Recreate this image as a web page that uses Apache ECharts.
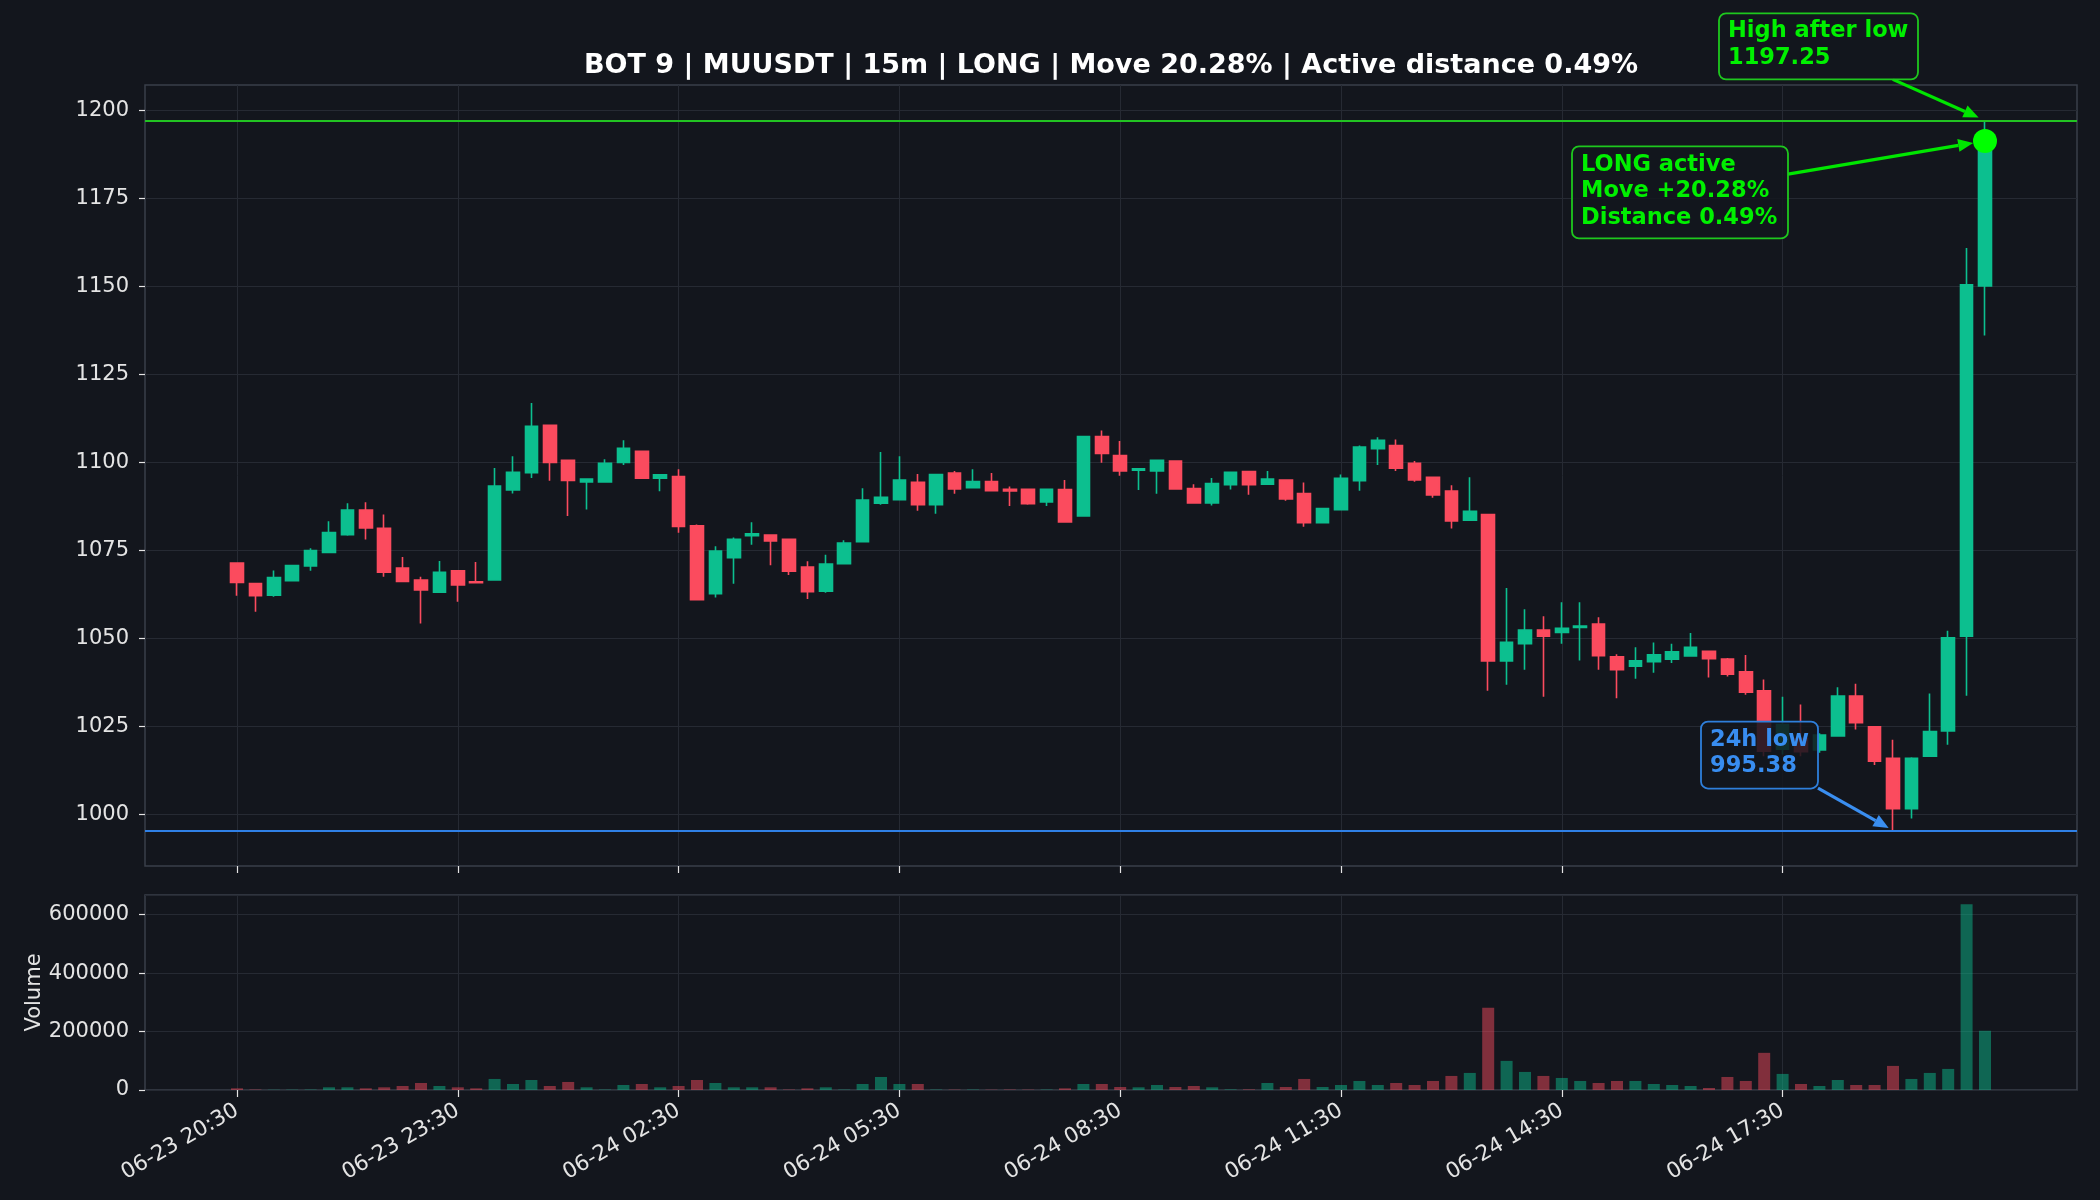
<!DOCTYPE html>
<html>
<head>
<meta charset="utf-8">
<title>BOT 9 | MUUSDT | 15m</title>
<script src="https://cdn.jsdelivr.net/npm/echarts@6/dist/echarts.min.js"></script>
<style>
  html, body { margin: 0; padding: 0; background: #13161d; }
  #chart { width: 2100px; height: 1200px; }
</style>
</head>
<body>
<div id="chart"></div>
<script>
// 15m candles, first one at 06-23 20:30
const opens = [
  1071.4, 1065.6, 1062.3, 1066.4, 1070.6, 1074.4, 1079.5, 1086.5, 1081.3, 1070.0,
  1066.6, 1063.1, 1069.2, 1066.1, 1066.6, 1092.2, 1097.1, 1110.6, 1100.6, 1094.5,
  1094.5, 1100.0, 1103.2, 1095.5, 1096.0, 1082.0, 1062.7, 1072.9, 1079.2, 1079.4,
  1078.2, 1070.3, 1063.4, 1071.2, 1077.5, 1088.4, 1089.4, 1094.4, 1088.0, 1097.0,
  1092.8, 1094.6, 1092.4, 1092.4, 1088.8, 1092.3, 1084.8, 1107.4, 1102.0, 1097.8,
  1097.6, 1100.4, 1092.6, 1088.5, 1093.7, 1097.4, 1093.8, 1095.0, 1091.2, 1082.9,
  1086.6, 1094.8, 1103.9, 1104.8, 1099.8, 1095.8, 1091.9, 1083.6, 1085.2, 1043.6,
  1048.5, 1052.4, 1051.7, 1053.1, 1054.1, 1044.8, 1042.1, 1043.4, 1044.1, 1045.0,
  1046.3, 1044.1, 1040.5, 1035.1, 1018.5, 1021.5, 1018.3, 1022.3, 1033.6, 1024.9,
  1015.9, 1001.6, 1016.5, 1023.7, 1050.6, 1150.2
];
const closes = [
  1065.9, 1062.1, 1067.3, 1070.7, 1075.0, 1080.1, 1086.5, 1081.4, 1068.8, 1066.2,
  1063.8, 1068.8, 1065.2, 1065.8, 1093.3, 1097.2, 1110.3, 1100.0, 1094.9, 1095.3,
  1099.8, 1104.0, 1095.5, 1096.5, 1081.8, 1061.0, 1074.8, 1078.2, 1079.7, 1077.7,
  1069.1, 1063.3, 1071.1, 1077.1, 1089.3, 1090.1, 1095.0, 1088.0, 1096.6, 1092.5,
  1094.6, 1092.0, 1091.9, 1088.3, 1092.4, 1083.1, 1107.4, 1102.6, 1097.6, 1098.2,
  1100.6, 1092.5, 1088.5, 1094.0, 1097.2, 1093.7, 1095.3, 1089.6, 1082.9, 1086.9,
  1095.5, 1104.4, 1106.3, 1098.4, 1095.0, 1090.8, 1083.4, 1086.1, 1043.6, 1048.9,
  1052.4, 1050.6, 1052.9, 1053.5, 1045.1, 1041.1, 1043.6, 1045.3, 1046.2, 1047.5,
  1044.2, 1039.8, 1034.7, 1017.9, 1025.5, 1017.8, 1022.5, 1033.6, 1026.0, 1015.1,
  1001.6, 1015.9, 1023.5, 1050.2, 1150.5, 1191.4
];
const lows = [
  1062.1, 1057.6, 1061.8, 1066.4, 1069.2, 1074.4, 1079.2, 1078.1, 1067.5, 1066.1,
  1054.2, 1063.1, 1060.4, 1065.8, 1066.4, 1091.2, 1095.6, 1094.8, 1084.8, 1086.6,
  1094.3, 1099.3, 1095.4, 1091.8, 1080.0, 1060.9, 1061.6, 1065.5, 1076.6, 1070.8,
  1068.0, 1061.2, 1063.0, 1071.2, 1077.5, 1088.0, 1089.4, 1086.3, 1085.4, 1091.1,
  1092.6, 1092.0, 1087.6, 1088.0, 1087.6, 1083.1, 1084.8, 1099.9, 1096.2, 1092.2,
  1091.1, 1092.5, 1088.5, 1087.8, 1092.3, 1090.8, 1093.8, 1089.1, 1081.7, 1082.9,
  1086.6, 1092.0, 1099.3, 1097.6, 1094.5, 1090.0, 1081.2, 1083.4, 1035.1, 1036.8,
  1041.1, 1033.4, 1048.5, 1043.7, 1041.1, 1033.0, 1038.5, 1040.2, 1043.0, 1045.0,
  1038.9, 1039.2, 1034.0, 1016.5, 1017.0, 1016.5, 1017.5, 1022.3, 1024.1, 1014.0,
  995.38, 998.8, 1016.5, 1019.8, 1033.7, 1136.1
];
const highs = [
  1071.6, 1065.6, 1069.3, 1070.7, 1075.6, 1083.3, 1088.4, 1088.7, 1085.2, 1073.1,
  1067.5, 1072.0, 1069.4, 1071.7, 1098.4, 1101.8, 1116.9, 1110.6, 1100.6, 1095.5,
  1100.9, 1106.3, 1103.2, 1096.6, 1098.1, 1082.4, 1076.2, 1078.7, 1083.0, 1079.5,
  1078.2, 1071.9, 1073.8, 1077.9, 1092.7, 1103.0, 1101.8, 1096.7, 1096.6, 1097.6,
  1098.1, 1097.0, 1093.2, 1092.4, 1092.6, 1095.0, 1107.4, 1109.1, 1106.1, 1098.2,
  1100.6, 1100.6, 1093.8, 1095.6, 1097.2, 1097.4, 1097.6, 1095.0, 1094.3, 1086.9,
  1096.6, 1104.8, 1107.2, 1106.5, 1100.4, 1096.0, 1093.5, 1095.8, 1085.2, 1064.3,
  1058.3, 1056.3, 1060.3, 1060.3, 1056.0, 1045.5, 1047.5, 1048.8, 1048.5, 1051.5,
  1046.3, 1044.4, 1045.3, 1038.3, 1033.4, 1031.2, 1023.0, 1036.1, 1037.1, 1024.9,
  1021.2, 1016.2, 1034.3, 1052.2, 1161.0, 1197.25
];
const volumes = [
  5700, 1500, 1000, 1200, 1500, 9200, 9200, 5700, 9200, 13700,
  24000, 13700, 9200, 5700, 37800, 20600, 34300, 13700, 27500, 9200,
  1500, 17200, 20600, 9200, 13700, 34300, 24000, 9200, 9200, 9200,
  1500, 5700, 9200, 1500, 20600, 44600, 20600, 20600, 1500, 1200,
  1500, 1000, 1500, 1200, 1500, 5700, 20600, 20600, 10300, 9200,
  17200, 10300, 13700, 9200, 2000, 2000, 24000, 10300, 37800, 10300,
  17200, 30900, 17200, 24000, 17200, 30900, 48100, 58400, 281600, 99600,
  61800, 48100, 41200, 30900, 24000, 30900, 30900, 20600, 17200, 13700,
  6900, 44600, 30900, 127100, 55000, 20600, 13700, 34300, 17200, 17200,
  82400, 37800, 58400, 72100, 635400, 202600
];
const priceTicks = [1000, 1025, 1050, 1075, 1100, 1125, 1150, 1175, 1200];
const volumeTicks = [0, 200000, 400000, 600000];

const lowPrice = 995.38;
const lowIndex = 90;
const highPrice = 1197.25;
const highIndex = 95;
const activePrice = 1191.4;

const upColor = "#0cbf8f";
const downColor = "#fb4b5e";
const upVolColor = "rgba(12,191,143,0.48)";
const downVolColor = "rgba(251,75,94,0.48)";
const bgColor = "#13161d";
const gridLineColor = "#262a33";
const frameColor = "#3a3f4a";
const textColor = "#e4e4e4";
const greenText = "#00f000";
const greenEdge = "#1ec81e";
const blueText = "#388df0";
const blueEdge = "#2e7fdb";

const padCount = 5;
const labelStep = 12;

// category labels, 15 minutes apart
const times = [];
const t0 = Date.UTC(2024, 5, 23, 20, 30);
const two = (n) => String(n).padStart(2, "0");
for (let i = 0; i < opens.length; i++) {
  const d = new Date(t0 + i * 15 * 60000);
  times.push(`${two(d.getUTCMonth() + 1)}-${two(d.getUTCDate())} ${two(d.getUTCHours())}:${two(d.getUTCMinutes())}`);
}

const pads = Array.from({ length: padCount }, (_, k) => "pad" + k);
const padsEnd = Array.from({ length: padCount }, (_, k) => "end" + k);
const categories = [...pads, ...times, ...padsEnd];

const candleData = [
  ...pads.map(() => "-"),
  ...opens.map((o, i) => [o, closes[i], lows[i], highs[i]]),
  ...padsEnd.map(() => "-"),
];
const volumeData = [
  ...pads.map(() => "-"),
  ...volumes.map((v, i) => ({
    value: v,
    itemStyle: { color: closes[i] >= opens[i] ? upVolColor : downVolColor },
  })),
  ...padsEnd.map(() => "-"),
];

const movePct = ((highPrice / lowPrice - 1) * 100).toFixed(2);
const distPct = (((highPrice - activePrice) / highPrice) * 100).toFixed(2);

const showTick = (idx) =>
  idx >= padCount && idx - padCount < times.length && (idx - padCount) % labelStep === 0;

const gridLeft = 145;
const gridWidth = 1932;

const chart = echarts.init(document.getElementById("chart"), null, { renderer: "canvas" });

const xAxisBase = {
  type: "category",
  data: categories,
  boundaryGap: false,
  axisLine: { show: false },
  axisTick: { show: true, interval: showTick, length: 7, lineStyle: { color: textColor, width: 1.2 } },
  splitLine: { show: true, interval: showTick, lineStyle: { color: gridLineColor, width: 1 } },
};

const option = {
  backgroundColor: bgColor,
  animation: false,
  textStyle: { fontFamily: "DejaVu Sans" },
  grid: [
    { left: gridLeft, width: gridWidth, top: 85, height: 781, show: true, borderColor: frameColor, borderWidth: 1.5, backgroundColor: "transparent" },
    { left: gridLeft, width: gridWidth, top: 895, height: 195, show: true, borderColor: frameColor, borderWidth: 1.5, backgroundColor: "transparent" },
  ],
  xAxis: [
    { ...xAxisBase, gridIndex: 0, axisLabel: { show: false } },
    {
      ...xAxisBase,
      gridIndex: 1,
      axisLabel: {
        show: true,
        interval: showTick,
        rotate: 30,
        margin: 19,
        color: textColor,
        fontSize: 21.5,
        fontFamily: "DejaVu Sans",
      },
    },
  ],
  yAxis: [
    {
      type: "value",
      gridIndex: 0,
      min: 985.3,
      max: 1207.3,
      axisLine: { show: false },
      axisTick: { show: true, length: 6, customValues: priceTicks, lineStyle: { color: textColor, width: 1.2 } },
      axisLabel: { customValues: priceTicks, color: textColor, fontSize: 21, margin: 16, fontFamily: "DejaVu Sans", formatter: (v) => String(v) },
      splitLine: { show: true, lineStyle: { color: gridLineColor, width: 1 } },
    },
    {
      type: "value",
      gridIndex: 1,
      min: 0,
      max: 667000,
      interval: 200000,
      name: "Volume",
      nameLocation: "middle",
      nameRotate: 90,
      nameGap: 100,
      nameMoveOverlap: false,
      nameTextStyle: { color: textColor, fontSize: 21, fontFamily: "DejaVu Sans" },
      axisLine: { show: false },
      axisTick: { show: true, length: 6, lineStyle: { color: textColor, width: 1.2 } },
      axisLabel: { color: textColor, fontSize: 21, margin: 16, fontFamily: "DejaVu Sans", formatter: (v) => String(v) },
      splitLine: { show: true, lineStyle: { color: gridLineColor, width: 1 } },
    },
  ],
  series: [
    {
      type: "candlestick",
      xAxisIndex: 0,
      yAxisIndex: 0,
      data: candleData,
      barWidth: 13,
      itemStyle: {
        color: upColor,
        color0: downColor,
        borderColor: upColor,
        borderColor0: downColor,
        borderWidth: 1.6,
      },
      markLine: {
        silent: true,
        symbol: ["none", "none"],
        label: { show: false },
        data: [
          { yAxis: highPrice, lineStyle: { color: "#22c322", width: 2.2, type: "solid" } },
          { yAxis: lowPrice, lineStyle: { color: "#2f80e6", width: 2.2, type: "solid" } },
        ],
      },
      markPoint: {
        silent: true,
        label: { show: false },
        data: [
          {
            coord: [padCount + highIndex, activePrice],
            symbol: "circle",
            symbolSize: 24,
            itemStyle: { color: "#00ff00" },
          },
        ],
      },
    },
    {
      type: "bar",
      xAxisIndex: 1,
      yAxisIndex: 1,
      data: volumeData,
      barWidth: 12,
    },
  ],
};

chart.setOption(option);

// annotations placed relative to their data anchors (offset pixels like matplotlib annotate)
const notes = [
  {
    lines: ["High after low", highPrice.toFixed(2)],
    idx: highIndex, price: highPrice,
    dx: -266, dy: -107, w: 199, h: 66,
    text: greenText, edge: greenEdge, arrow: "#00e600", shrink: 7,
  },
  {
    lines: ["LONG active", `Move +${movePct}%`, `Distance ${distPct}%`],
    idx: highIndex, price: activePrice,
    dx: -413, dy: 5.5, w: 216, h: 92,
    text: greenText, edge: greenEdge, arrow: "#00e600", shrink: 12,
  },
  {
    lines: ["24h low", lowPrice.toFixed(2)],
    idx: lowIndex, price: lowPrice,
    dx: -192, dy: -109, w: 117, h: 67,
    text: blueText, edge: blueEdge, arrow: "#3a8ef0", shrink: 5,
  },
];

const edgePoint = (box, target) => {
  const cx = box.x + box.w / 2;
  const cy = box.y + box.h / 2;
  const dx = target[0] - cx;
  const dy = target[1] - cy;
  const tx = dx !== 0 ? box.w / 2 / Math.abs(dx) : Infinity;
  const ty = dy !== 0 ? box.h / 2 / Math.abs(dy) : Infinity;
  const t = Math.min(tx, ty);
  return [cx + dx * t, cy + dy * t];
};

const elements = [];
notes.forEach((n) => {
  const p = chart.convertToPixel({ seriesIndex: 0 }, [padCount + n.idx, n.price]);
  const box = { x: p[0] + n.dx, y: p[1] + n.dy, w: n.w, h: n.h };
  const start = edgePoint(box, p);
  const ang = Math.atan2(p[1] - start[1], p[0] - start[0]);
  const tip = [p[0] - n.shrink * Math.cos(ang), p[1] - n.shrink * Math.sin(ang)];
  const headLen = 15;
  const headW = 6.5;
  const base = [tip[0] - headLen * Math.cos(ang), tip[1] - headLen * Math.sin(ang)];

  elements.push({
    type: "line",
    z: 100,
    shape: { x1: start[0], y1: start[1], x2: base[0], y2: base[1] },
    style: { stroke: n.arrow, lineWidth: 3.2 },
  });
  elements.push({
    type: "polygon",
    z: 100,
    shape: {
      points: [
        tip,
        [base[0] + headW * Math.sin(ang), base[1] - headW * Math.cos(ang)],
        [base[0] - headW * Math.sin(ang), base[1] + headW * Math.cos(ang)],
      ],
    },
    style: { fill: n.arrow },
  });
  elements.push({
    type: "rect",
    z: 101,
    shape: { x: box.x, y: box.y, width: box.w, height: box.h, r: 7 },
    style: { fill: "rgba(19,22,29,0.86)", stroke: n.edge, lineWidth: 1.8 },
  });
  elements.push({
    type: "text",
    z: 102,
    x: box.x + 9,
    y: box.y + 5,
    style: {
      text: n.lines.join("\n"),
      fill: n.text,
      font: 'bold 22.5px "DejaVu Sans"',
      lineHeight: 26.5,
      align: "left",
      verticalAlign: "top",
    },
  });
});

elements.push({
  type: "text",
  z: 102,
  x: gridLeft + gridWidth / 2,
  y: 52,
  style: {
    text: `BOT 9 | MUUSDT | 15m | LONG | Move ${movePct}% | Active distance ${distPct}%`,
    fill: "#ffffff",
    font: 'bold 27px "DejaVu Sans"',
    align: "center",
    verticalAlign: "top",
  },
});

chart.setOption({ graphic: { elements } });
</script>
</body>
</html>
